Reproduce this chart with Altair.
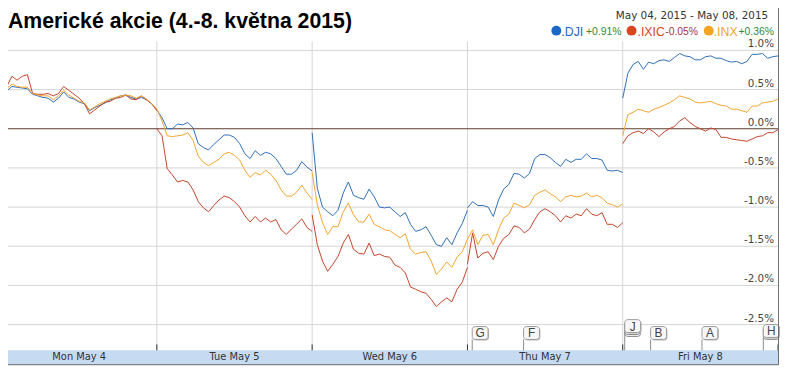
import altair as alt
import pandas as pd

# ---------------- data (percent change vs. previous Friday close) ----------------
days = ["Mon May 4", "Tue May 5", "Wed May 6", "Thu May 7", "Fri May 8"]
session_minutes = [0, 13, 26, 39, 52, 65, 78, 91, 104, 117, 130, 143, 156, 169, 182,
                   195, 208, 221, 234, 247, 260, 273, 286, 299, 312, 325, 338, 351,
                   364, 377, 390]

dji_mon = [0.23, 0.48, 0.54, 0.53, 0.52, 0.51, 0.44, 0.42, 0.40, 0.39, 0.34, 0.39, 0.47, 0.40, 0.38,
           0.34, 0.32, 0.23, 0.27, 0.30, 0.33, 0.37, 0.39, 0.42, 0.43, 0.40, 0.38, 0.40, 0.37, 0.32, 0.24]
inx_mon = [0.25, 0.51, 0.57, 0.54, 0.53, 0.53, 0.45, 0.43, 0.42, 0.42, 0.37, 0.42, 0.49, 0.43, 0.39,
           0.35, 0.33, 0.24, 0.28, 0.32, 0.35, 0.38, 0.40, 0.42, 0.43, 0.42, 0.39, 0.42, 0.38, 0.32, 0.25]
ixic_mon = [0.28, 0.54, 0.67, 0.62, 0.67, 0.69, 0.45, 0.44, 0.44, 0.45, 0.42, 0.45, 0.54, 0.49, 0.44,
            0.39, 0.32, 0.19, 0.24, 0.29, 0.34, 0.35, 0.39, 0.40, 0.43, 0.38, 0.37, 0.42, 0.37, 0.32, 0.23]

dji_tue = [0.24, 0.14, 0.00, 0.00, 0.06, 0.05, 0.08, 0.01, -0.19, -0.24, -0.27, -0.20, -0.14, -0.08, -0.08,
           -0.11, -0.19, -0.32, -0.38, -0.28, -0.34, -0.30, -0.32, -0.38, -0.48, -0.58, -0.58, -0.53, -0.42, -0.49, -0.54]
inx_tue = [0.25, 0.10, -0.09, -0.10, -0.09, -0.08, -0.05, -0.15, -0.35, -0.43, -0.47, -0.43, -0.39, -0.32, -0.30,
           -0.34, -0.40, -0.53, -0.62, -0.56, -0.59, -0.53, -0.58, -0.66, -0.78, -0.86, -0.86, -0.81, -0.72, -0.82, -0.90]
ixic_tue = [0.00, -0.09, -0.51, -0.59, -0.68, -0.66, -0.68, -0.78, -0.93, -1.01, -1.06, -0.98, -0.91, -0.86, -0.88,
            -0.93, -1.00, -1.11, -1.19, -1.12, -1.19, -1.14, -1.19, -1.16, -1.29, -1.35, -1.28, -1.22, -1.15, -1.26, -1.31]

dji_wed = [-0.05, -0.76, -1.00, -1.06, -1.11, -1.04, -0.82, -0.68, -0.85, -0.88, -0.90, -0.77, -0.87, -1.00, -1.01,
           -1.00, -1.06, -1.12, -1.07, -1.22, -1.31, -1.29, -1.25, -1.36, -1.48, -1.50, -1.39, -1.48, -1.33, -1.21, -1.04]
inx_wed = [-0.56, -0.97, -1.20, -1.35, -1.25, -1.25, -1.06, -0.95, -1.10, -1.19, -1.19, -1.09, -1.22, -1.25, -1.29,
           -1.30, -1.35, -1.39, -1.34, -1.54, -1.60, -1.58, -1.57, -1.69, -1.86, -1.79, -1.70, -1.77, -1.64, -1.57, -1.41]
ixic_wed = [-1.10, -1.48, -1.69, -1.82, -1.73, -1.63, -1.46, -1.35, -1.54, -1.59, -1.60, -1.46, -1.62, -1.60, -1.63,
            -1.64, -1.74, -1.77, -1.84, -2.02, -2.05, -2.08, -2.10, -2.18, -2.27, -2.21, -2.16, -2.21, -2.05, -1.96, -1.77]

dji_thu = [-1.01, -0.93, -0.98, -0.98, -1.00, -1.12, -0.91, -0.77, -0.71, -0.57, -0.58, -0.63, -0.57, -0.38, -0.33,
           -0.33, -0.37, -0.43, -0.48, -0.39, -0.43, -0.39, -0.39, -0.32, -0.38, -0.38, -0.40, -0.53, -0.54, -0.53, -0.56]
inx_thu = [-1.41, -1.29, -1.48, -1.36, -1.35, -1.48, -1.29, -1.14, -1.09, -0.95, -0.98, -1.01, -0.97, -0.85, -0.81,
           -0.78, -0.83, -0.87, -0.93, -0.87, -0.85, -0.87, -0.86, -0.82, -0.87, -0.85, -0.88, -0.95, -0.97, -1.00, -0.96]
ixic_thu = [-1.73, -1.33, -1.65, -1.59, -1.57, -1.67, -1.50, -1.40, -1.35, -1.24, -1.26, -1.33, -1.28, -1.16, -1.06,
            -1.02, -1.06, -1.11, -1.19, -1.11, -1.14, -1.09, -1.11, -1.02, -1.09, -1.11, -1.07, -1.22, -1.22, -1.26, -1.20]

dji_fri = [0.39, 0.71, 0.82, 0.86, 0.76, 0.85, 0.83, 0.87, 0.88, 0.86, 0.91, 0.96, 0.93, 0.92, 0.88,
           0.88, 0.92, 0.93, 0.90, 0.90, 0.87, 0.85, 0.86, 0.83, 0.86, 0.95, 0.95, 0.96, 0.90, 0.92, 0.93]
inx_fri = [-0.09, 0.18, 0.21, 0.25, 0.23, 0.21, 0.25, 0.27, 0.30, 0.33, 0.37, 0.42, 0.40, 0.38, 0.34,
           0.33, 0.34, 0.35, 0.32, 0.30, 0.29, 0.25, 0.25, 0.23, 0.21, 0.29, 0.29, 0.33, 0.34, 0.35, 0.38]
ixic_fri = [-0.19, -0.09, -0.05, -0.03, -0.06, 0.00, -0.04, -0.10, -0.04, 0.00, 0.03, 0.10, 0.14, 0.08, 0.03,
            0.00, -0.03, 0.01, -0.01, -0.11, -0.11, -0.13, -0.14, -0.15, -0.16, -0.13, -0.10, -0.09, -0.05, -0.05, -0.01]

series_names = [".DJI", ".IXIC", ".INX"]
series_changes = ["+0.91%", "-0.05%", "+0.36%"]
y_ticks = [1.0, 0.5, 0.0, -0.5, -1.0, -1.5, -2.0, -2.5]
y_tick_labels = ["1.0%", "0.5%", "0.0%", "-0.5%", "-1.0%", "-1.5%", "-2.0%", "-2.5%"]
flag_letters = ["G", "F", "B", "A"]
flag_minutes = [1182, 1311, 1630, 1759]      # minutes since Monday open (5 x 390-minute sessions)
flag_j_minutes = [1565]
flag_h_minutes = [1913]

date_range = "May 04, 2015  -  May 08, 2015"
title_text = "Americké akcie (4.-8. května 2015)"

# ---------------- build tables ----------------
by_series = {
    ".DJI": [dji_mon, dji_tue, dji_wed, dji_thu, dji_fri],
    ".IXIC": [ixic_mon, ixic_tue, ixic_wed, ixic_thu, ixic_fri],
    ".INX": [inx_mon, inx_tue, inx_wed, inx_thu, inx_fri],
}
rows = []
for name in series_names:
    for d, vals in enumerate(by_series[name]):
        for m, v in zip(session_minutes, vals):
            rows.append({"series": name, "day": d, "t": d * 390 + m, "v": v})
lines_df = pd.DataFrame(rows)

SESSION = 390
bounds_df = pd.DataFrame({"t": [SESSION * i for i in range(1, 5)]})
ticks_df = pd.DataFrame({"t": [SESSION * i for i in range(0, 6)]})
day_df = pd.DataFrame({"c": [SESSION * i + SESSION / 2 for i in range(5)], "day": days})
grid_df = pd.DataFrame({"v": [v for v in y_ticks if v != 0.0]})
ylab_df = pd.DataFrame({"v": y_ticks, "label": y_tick_labels})
one = pd.DataFrame({"k": [0]})

X = alt.Scale(domain=[0, 5 * SESSION], range=[1.5, 786], nice=False, zero=False)
Y = alt.Scale(domain=[-2.5, 1.0], range=[326, 49], nice=False, zero=False)

line_colors = ["#2f6eb6", "#c4432b", "#f2a42e"]
dot_colors = ["#1b66c6", "#d9451e", "#f5a422"]
change_colors = ["#2e8b3a", "#a2304f", "#2e8b3a"]

base1 = alt.Chart(one)

band = base1.mark_rect(color="#c6daf1").encode(
    x=alt.value(0), x2=alt.value(787), y=alt.value(352), y2=alt.value(367))

grid = alt.Chart(grid_df).mark_rule(color="#d6d6d6", strokeWidth=1).encode(
    y=alt.Y("v:Q", scale=Y, axis=None), x=alt.value(1.5), x2=alt.value(786))

vgrid = alt.Chart(bounds_df).mark_rule(color="#d6d6d6", strokeWidth=1).encode(
    x=alt.X("t:Q", scale=X, axis=None), y=alt.value(40), y2=alt.value(352))

zero = alt.Chart(pd.DataFrame({"v": [0.0]})).mark_rule(color="#5b3b2e", strokeWidth=1).encode(
    y=alt.Y("v:Q", scale=Y, axis=None), x=alt.value(1.5), x2=alt.value(786))

ticks = alt.Chart(ticks_df).mark_rule(color="#333333", strokeWidth=1).encode(
    x=alt.X("t:Q", scale=X, axis=None), y=alt.value(346), y2=alt.value(352))

lines = alt.Chart(lines_df).mark_line(strokeWidth=1).encode(
    x=alt.X("t:Q", scale=X, axis=None),
    y=alt.Y("v:Q", scale=Y, axis=None),
    color=alt.Color("series:N", scale=alt.Scale(domain=series_names, range=line_colors), legend=None),
    detail="day:N",
)

ylabels = alt.Chart(ylab_df).mark_text(
    align="right", baseline="bottom", dy=-1, font="DejaVu Sans", fontSize=10.5, color="#444444"
).encode(y=alt.Y("v:Q", scale=Y, axis=None), x=alt.value(782), text="label:N")

daylabels = alt.Chart(day_df).mark_text(
    font="DejaVu Sans", fontSize=10, color="#333333", baseline="middle"
).encode(x=alt.X("c:Q", scale=X, axis=None), y=alt.value(359), text="day:N")


def flags(letters, minutes, top):
    df = pd.DataFrame({"t": minutes, "letter": letters})
    b = alt.Chart(df)
    pole = b.mark_rule(color="#8a8a8a", strokeWidth=1).encode(
        x=alt.X("t:Q", scale=X, axis=None), y=alt.value(top + 13), y2=alt.value(352))
    shadow = b.mark_rect(x2Offset=17, xOffset=1, cornerRadius=3, color="#b5b5b5").encode(
        x=alt.X("t:Q", scale=X, axis=None), x2="t:Q", y=alt.value(top + 1), y2=alt.value(top + 14))
    box = b.mark_rect(x2Offset=16, cornerRadius=3, fill="#f7f7f7", stroke="#9a9a9a", strokeWidth=1).encode(
        x=alt.X("t:Q", scale=X, axis=None), x2="t:Q", y=alt.value(top), y2=alt.value(top + 13))
    txt = b.mark_text(dx=8, font="Liberation Sans", fontSize=12, color="#444444", baseline="middle").encode(
        x=alt.X("t:Q", scale=X, axis=None), y=alt.value(top + 7), text="letter:N")
    return [pole, shadow, box, txt]


def stack_under(minutes, top, n):
    out = []
    df = pd.DataFrame({"t": minutes})
    for i in range(n, 0, -1):
        out.append(alt.Chart(df).mark_rect(x2Offset=16, cornerRadius=3, fill="#eeeeee", stroke="#8a8a8a",
                                           strokeWidth=1).encode(
            x=alt.X("t:Q", scale=X, axis=None), x2="t:Q",
            y=alt.value(top + 2 * i), y2=alt.value(top + 13 + 2 * i)))
    return out


flag_layers = []
flag_layers += flags(flag_letters, flag_minutes, 328)
flag_layers += stack_under(flag_j_minutes, 321, 2) + flags(["J"], flag_j_minutes, 321)
flag_layers += stack_under(flag_h_minutes, 326, 1) + flags(["H"], flag_h_minutes, 326)

title = base1.mark_text(
    text=title_text, font="Liberation Sans", fontSize=21.5, fontWeight="bold", color="#000000",
    align="left", baseline="alphabetic"
).encode(x=alt.value(8), y=alt.value(26))

daterange = base1.mark_text(
    text=date_range, font="DejaVu Sans", fontSize=10.5, color="#333333", align="right", baseline="alphabetic"
).encode(x=alt.value(776), y=alt.value(17))

legend_layers = []
dot_x = [562, 638, 716]
name_x = [567, 644, 721]
chg_x = [592, 672, 746]
for i in range(3):
    legend_layers.append(base1.mark_point(shape="circle", filled=True, size=100, opacity=1,
                                          color=dot_colors[i]).encode(x=alt.value(dot_x[i]), y=alt.value(29)))
    legend_layers.append(base1.mark_text(text=series_names[i], font="Liberation Sans", fontSize=12.5,
                                         color=dot_colors[i], align="left", baseline="alphabetic"
                                         ).encode(x=alt.value(name_x[i]), y=alt.value(34)))
    legend_layers.append(base1.mark_text(text=series_changes[i], font="Liberation Sans", fontSize=10.5,
                                         color=change_colors[i], align="left", baseline="alphabetic"
                                         ).encode(x=alt.value(chg_x[i]), y=alt.value(33)))

border = base1.mark_rect(fillOpacity=0, stroke="#6f6f6f", strokeWidth=1).encode(
    x=alt.value(0.5), x2=alt.value(786.5), y=alt.value(0.5), y2=alt.value(366.5))

chart = alt.layer(
    band, grid, vgrid, zero, ticks, lines, ylabels, daylabels, *flag_layers,
    title, daterange, *legend_layers, border
).properties(
    width=788, height=368,
    autosize=alt.AutoSizeParams(type="none"),
    padding={"left": -8, "top": -8, "right": 0, "bottom": 0},
).configure_view(strokeWidth=0)

chart.save("out.html", embed_options={"renderer": "svg", "actions": False})
